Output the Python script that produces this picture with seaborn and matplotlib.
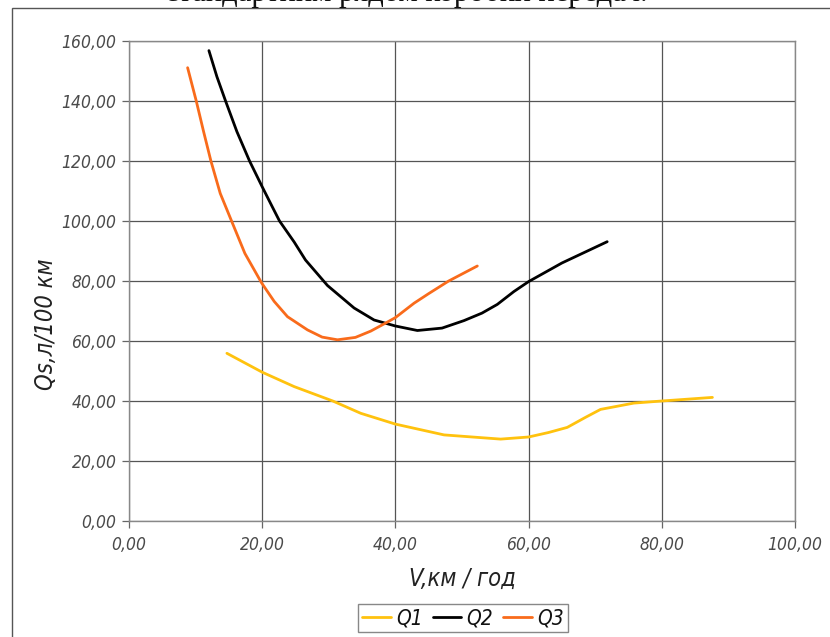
import re
import matplotlib
matplotlib.use("Agg")
import matplotlib.pyplot as plt
import matplotlib.ticker as mticker
from matplotlib import font_manager
from matplotlib.font_manager import FontProperties
from matplotlib.patches import Rectangle
import seaborn as sns
import pandas as pd

# ---- data ----
q1_x = [14.7, 20.0, 24.8, 30.6, 34.8, 40.0, 47.3, 55.8, 60.0, 63.0, 65.8, 68.5, 70.8, 75.8, 80.0, 87.6]
q1_y = [55.9, 49.6, 44.8, 40.0, 35.9, 32.3, 28.7, 27.3, 28.0, 29.5, 31.2, 34.5, 37.2, 39.3, 40.0, 41.2]

q2_x = [12.0, 13.2, 14.5, 16.2, 18.1, 20.0, 21.5, 22.6, 24.8, 26.5, 29.8, 33.8, 36.8, 40.0, 43.3,
        47.0, 50.3, 53.0, 55.3, 57.8, 60.0, 65.0, 71.8]
q2_y = [156.8, 148.1, 140.0, 129.8, 120.0, 111.4, 104.8, 100.0, 93.0, 87.0, 78.5, 71.0, 67.0, 65.0, 63.5,
        64.3, 66.8, 69.3, 72.2, 76.5, 79.8, 86.0, 93.1]

q3_x = [8.8, 10.1, 11.2, 12.3, 13.7, 15.4, 17.4, 19.9, 21.8, 23.8, 26.8, 29.0, 31.3, 34.0, 36.3, 38.3,
        40.0, 42.8, 45.0, 48.0, 52.3]
q3_y = [151.1, 140.0, 129.8, 120.0, 109.2, 100.0, 89.2, 79.4, 73.2, 68.1, 63.7, 61.3, 60.4, 61.2, 63.3, 65.7,
        67.8, 72.6, 75.8, 80.0, 85.0]

series_names = ["Q1", "Q2", "Q3"]
series_colors = ["#FFC20E", "#000000", "#F96B1B"]

x_ticks = [0, 20, 40, 60, 80, 100]
y_ticks = [0, 20, 40, 60, 80, 100, 120, 140, 160]
x_label = "V,км / год"
y_label = "Qs,л/100 км"
top_text = "стандартним рядом коробки передач."

sns.set_theme(style="white")
plt.rcParams["font.family"] = ["DejaVu Sans"]

# pick a narrow / condensed italic face if one is installed
def pick_font():
    best, best_score = None, -1
    for f in font_manager.fontManager.ttflist:
        fn = f.fname
        base = fn.split("/")[-1]
        if not re.search(r"(condensed|narrow)", base, re.I):
            continue
        if re.search(r"(bold|black|light|thin|semi|extra|medium)", base, re.I):
            continue
        score = 1
        if re.search(r"(italic|oblique)", base, re.I):
            score += 2
        if re.search(r"(dejavu|liberation)", base, re.I):
            score += 1
        if score > best_score:
            best, best_score = fn, score
    return best

narrow_path = pick_font()

def fp(size):
    if narrow_path:
        return FontProperties(fname=narrow_path, size=size)
    return FontProperties(family="DejaVu Sans", style="italic", size=size * 0.88)

frames = []
for name, xs, ys in zip(series_names, [q1_x, q2_x, q3_x], [q1_y, q2_y, q3_y]):
    frames.append(pd.DataFrame({"V": xs, "Q": ys, "series": name}))
df = pd.concat(frames, ignore_index=True)

fig = plt.figure(figsize=(8.3, 6.37), dpi=100)
fig.patch.set_facecolor("white")
ax = fig.add_axes([129 / 830, 1 - 521 / 637, 666 / 830, 480 / 637])

sns.lineplot(data=df, x="V", y="Q", hue="series", palette=dict(zip(series_names, series_colors)),
             sort=False, estimator=None, linewidth=2.0, ax=ax, legend=True)

ax.set_xlim(0, 100)
ax.set_ylim(0, 160)
ax.set_xticks(x_ticks)
ax.set_yticks(y_ticks)
fmt = mticker.FuncFormatter(lambda v, p: f"{v:.2f}".replace(".", ","))
ax.xaxis.set_major_formatter(fmt)
ax.yaxis.set_major_formatter(fmt)
ax.grid(True, color="#555555", linewidth=0.9)
ax.set_axisbelow(True)
for s in ax.spines.values():
    s.set_color("#888888")
    s.set_linewidth(1.0)
ax.tick_params(axis="both", which="major", direction="out", length=5, width=0.9,
               color="#666666", labelcolor="#4a4a4a", pad=4)
ax.tick_params(axis="y", left=True)
ax.tick_params(axis="x", bottom=True, pad=6)
for lab in ax.get_xticklabels() + ax.get_yticklabels():
    lab.set_fontproperties(fp(12.5))
    lab.set_fontstyle("italic")

ax.set_xlabel(x_label, fontproperties=fp(17), color="#222222", labelpad=9)
ax.set_ylabel(y_label, fontproperties=fp(17), color="#222222")
ax.xaxis.label.set_fontstyle("italic")
ax.yaxis.label.set_fontstyle("italic")
ax.yaxis.set_label_coords(-0.106, 0.41)

handles, labels = ax.get_legend_handles_labels()
ax.get_legend().remove()
lp = fp(15)
lp.set_style("italic")
leg = fig.legend(handles, labels, loc="upper center", bbox_to_anchor=(463 / 830, 1 - 604 / 637),
                 ncol=3, frameon=True, fancybox=False, edgecolor="#888888", framealpha=1,
                 handlelength=1.35, handletextpad=0.25, columnspacing=0.5, borderpad=0.2,
                 borderaxespad=0.0, prop=lp)
leg.get_frame().set_linewidth(1.0)
for t in leg.get_texts():
    t.set_color("#111111")

# page frame and clipped document text above
fig.patches.append(Rectangle((12 / 830, -0.1), 1.2, 1 - 8 / 637 + 0.1, transform=fig.transFigure,
                             fill=False, edgecolor="#555555", linewidth=1.0, clip_on=False))
fig.text(0.49, 1 - 1 / 637, top_text, ha="center", va="baseline", fontsize=22,
         family=["Liberation Serif", "DejaVu Serif"], color="#111111")

fig.savefig("out.png", dpi=100, facecolor="white")
